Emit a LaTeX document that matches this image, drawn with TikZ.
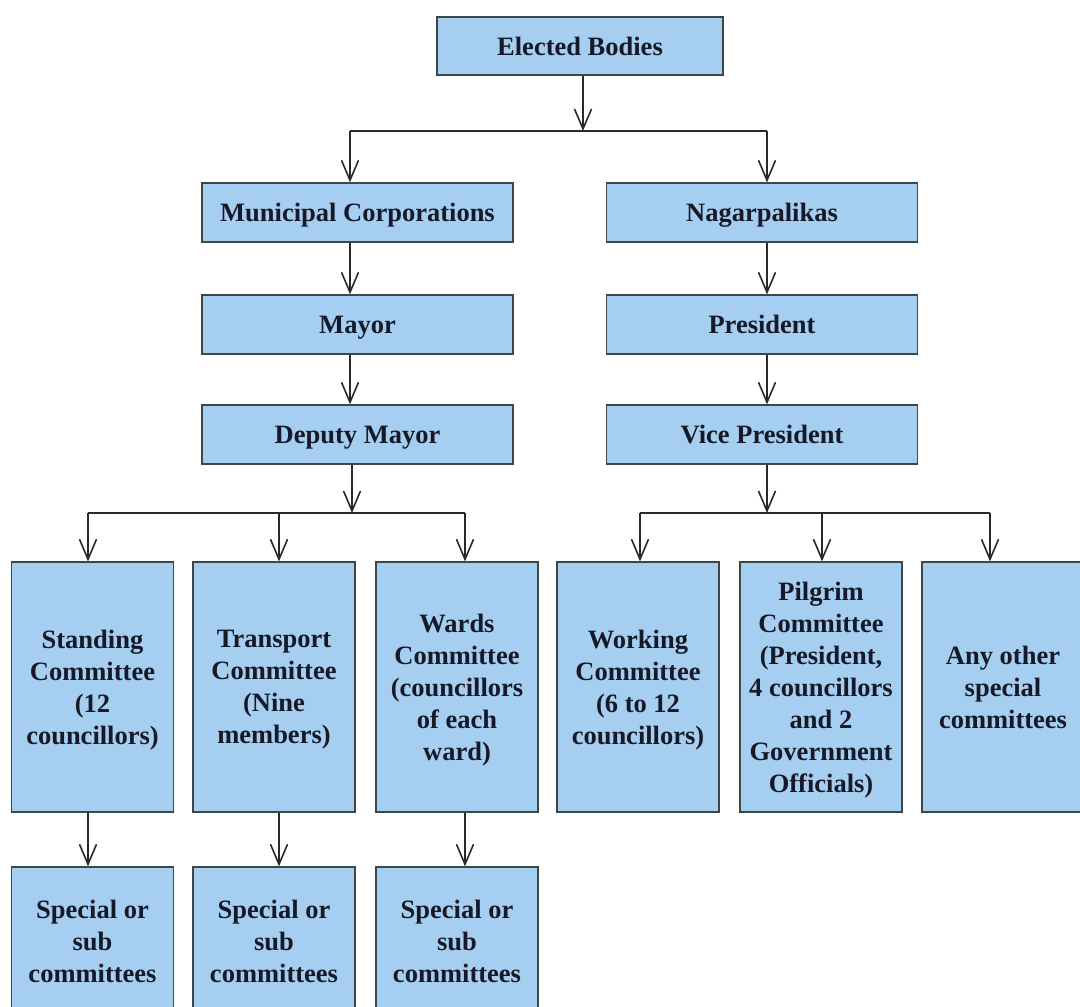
\documentclass[tikz,border=0pt]{standalone}
\usepackage{fontspec}
\setmainfont{Liberation Serif}
\usetikzlibrary{arrows.meta}
\definecolor{boxfill}{RGB}{166,206,240}
\definecolor{boxline}{RGB}{60,72,72}
\definecolor{textcol}{RGB}{22,26,40}
\definecolor{arrowcol}{RGB}{45,40,38}
\tikzset{
  orgbox/.style={draw=boxline, fill=boxfill, line width=1.3pt, inner sep=0pt,
    align=center, text=textcol,
    font=\fontsize{26.5}{32}\selectfont\bfseries},
  widebox/.style={orgbox, minimum width=311pt, minimum height=59pt,
    text height=18pt, text depth=0pt},
  tallbox/.style={orgbox, minimum width=162pt, minimum height=250pt},
  subbox/.style={orgbox, minimum width=162pt, minimum height=148pt},
  link/.style={draw=arrowcol, line width=1.6pt},
  arrow/.style={link, -{Straight Barb[length=20pt, width=17pt, line width=1.6pt]}},
}
% closing parenthesis on a last line, kept out of the vertical centring
\newcommand{\cparen}{\smash{)}}
\begin{document}
\begin{tikzpicture}[x=1pt, y=-1pt]
\useasboundingbox (0,0) rectangle (1080,1007);
\clip (0,0) rectangle (1080,1007);

% top level
\node[widebox, minimum width=286pt, minimum height=58pt] (elected) at (580,46) {Elected Bodies};

% two branches
\node[widebox] (mc)   at (357.5,212.5) {Municipal Corporations};
\node[widebox] (nag)  at (762,212.5) {Nagarpalikas};
\node[widebox] (mayor) at (357.5,324.5) {Mayor};
\node[widebox] (pres)  at (762,324.5) {President};
\node[widebox] (dmayor) at (357.5,434.5) {Deputy Mayor};
\node[widebox] (vpres)  at (762,434.5) {Vice President};

% committees
\node[tallbox] (stand) at (92.5,687) {Standing\\Committee\\(12\\councillors\cparen};
\node[tallbox] (trans) at (274,687) {Transport\\Committee\\(Nine\\members\cparen};
\node[tallbox] (wards) at (457,687) {Wards\\Committee\\(councillors\\of each\\ward\cparen};
\node[tallbox] (work)  at (638,687) {Working\\Committee\\(6 to 12\\councillors\cparen};
\node[tallbox] (pilg)  at (821,687) {Pilgrim\\Committee\\(President,\\4 councillors\\and 2\\Government\\Officials\cparen};
\node[tallbox] (other) at (1003,687) {Any other\\special\\committees};

% sub committees
\node[subbox] (sub1) at (92.5,941) {Special or\\sub\\committees};
\node[subbox] (sub2) at (274,941) {Special or\\sub\\committees};
\node[subbox] (sub3) at (457,941) {Special or\\sub\\committees};

% junction points
\coordinate (j0) at (583,131);
\coordinate (j0l) at (350,131);
\coordinate (j0r) at (767,131);
\coordinate (j1) at (352,513);
\coordinate (j1l) at (88,513);
\coordinate (j1m) at (279,513);
\coordinate (j1r) at (465,513);
\coordinate (j2) at (767,513);
\coordinate (j2l) at (640,513);
\coordinate (j2m) at (822,513);
\coordinate (j2r) at (990,513);

% connectors
\draw[arrow] (elected.south -| j0) -- (j0);
\draw[link] (j0l) -- (j0r);
\draw[arrow] (j0l) -- (j0l |- mc.north);
\draw[arrow] (j0r) -- (j0r |- nag.north);

\draw[arrow] (mc.south -| j0l) -- (j0l |- mayor.north);
\draw[arrow] (mayor.south -| j0l) -- (j0l |- dmayor.north);
\draw[arrow] (nag.south -| j0r) -- (j0r |- pres.north);
\draw[arrow] (pres.south -| j0r) -- (j0r |- vpres.north);

\draw[arrow] (dmayor.south -| j1) -- (j1);
\draw[link] (j1l) -- (j1r);
\draw[arrow] (j1l) -- (j1l |- stand.north);
\draw[arrow] (j1m) -- (j1m |- trans.north);
\draw[arrow] (j1r) -- (j1r |- wards.north);

\draw[arrow] (vpres.south -| j2) -- (j2);
\draw[link] (j2l) -- (j2r);
\draw[arrow] (j2l) -- (j2l |- work.north);
\draw[arrow] (j2m) -- (j2m |- pilg.north);
\draw[arrow] (j2r) -- (j2r |- other.north);

\draw[arrow] (stand.south -| j1l) -- (j1l |- sub1.north);
\draw[arrow] (trans.south -| j1m) -- (j1m |- sub2.north);
\draw[arrow] (wards.south -| j1r) -- (j1r |- sub3.north);
\end{tikzpicture}
\end{document}
